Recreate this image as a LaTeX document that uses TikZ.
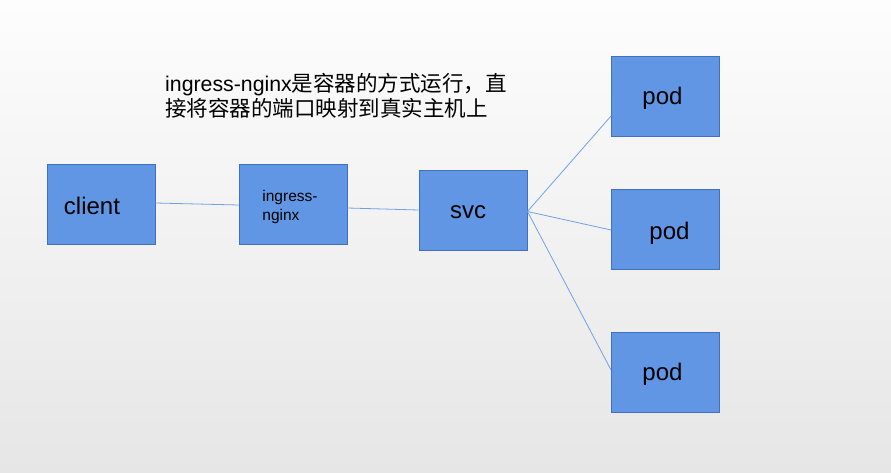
\documentclass[tikz,border=0pt]{standalone}
\usepackage{fontspec}
\setmainfont{Liberation Sans}
\newfontfamily\cjk{Noto Sans CJK SC}
\usetikzlibrary{positioning,calc}

\definecolor{boxfill}{RGB}{96,150,228}
\definecolor{boxline}{RGB}{66,112,190}
\definecolor{wire}{RGB}{112,162,232}
\definecolor{bgtop}{RGB}{253,253,253}
\definecolor{bgbot}{RGB}{230,230,230}

\newcommand{\zh}[1]{{\cjk\fontsize{21.5}{25.5}\selectfont #1}}

\begin{document}
\begin{tikzpicture}[
  x=1pt, y=-1pt,
  box/.style  = {draw=boxline, fill=boxfill, line width=0.9pt,
                 minimum width=108pt, minimum height=80pt, inner sep=0pt},
  lbl/.style  = {inner sep=0pt, text=black, font=\fontsize{24}{28}\selectfont},
  slbl/.style = {inner sep=0pt, text=black, align=left,
                 font=\fontsize{15.5}{19}\selectfont},
  note/.style = {inner sep=0pt, text=black, align=left, anchor=north west,
                 font=\fontsize{21.3}{25.5}\selectfont},
  ln/.style   = {draw=wire, line width=0.8pt},
]

% =========================== background ====================================
\shade[top color=bgtop, bottom color=bgbot] (0,0) rectangle (891,473);
\useasboundingbox (0,0) rectangle (891,473);

% =========================== boxes =========================================
\node[box] (client) at (101,204) {};
\node[box] (ingr)   at (293,204) {};
\node[box] (svc)    at (473,210) {};
\node[box] (podA)   at (665.5,96)  {};
\node[box] (podB)   at (665.5,229) {};
\node[box] (podC)   at (665.5,372) {};

% =========================== box texts =====================================
\node[lbl]  (clienttxt) at ([xshift=-9pt,yshift=-2pt]client.center) {client};
\node[slbl] (ingrtxt)   at ([xshift=-3pt,yshift=-2.5pt]ingr.center) {ingress-\\nginx};
\node[lbl]  (svctxt)    at ([xshift=-5pt,yshift=-2pt]svc.center)    {svc};
\node[lbl]  (podAtxt)   at ([xshift=-3pt,yshift=-2pt]podA.center)   {pod};
\node[lbl]  (podBtxt)   at ([xshift=4pt,yshift=-4pt]podB.center)    {pod};
\node[lbl]  (podCtxt)   at ([xshift=-3pt,yshift=-2pt]podC.center)   {pod};

% =========================== note ==========================================
\node[note] (info) at (165,73)
  {ingress-nginx\zh{是容器的方式运行，直}\\\zh{接将容器的端口映射到真实主机上}};

% =========================== connectors ====================================
\draw[ln] ([yshift=1pt]client.east) -- ([yshift=-1pt]ingr.west);
\draw[ln] ([yshift=-4pt]ingr.east) -- (svc.west);
\draw[ln] ([yshift=-1.5pt]svc.east) -- ([yshift=-20pt]podA.west);
\draw[ln] ([yshift=-1.5pt]svc.east) -- ([yshift=-1pt]podB.west);
\draw[ln] ([yshift=-1.5pt]svc.east) -- ([yshift=2pt]podC.west);

\end{tikzpicture}
\end{document}
